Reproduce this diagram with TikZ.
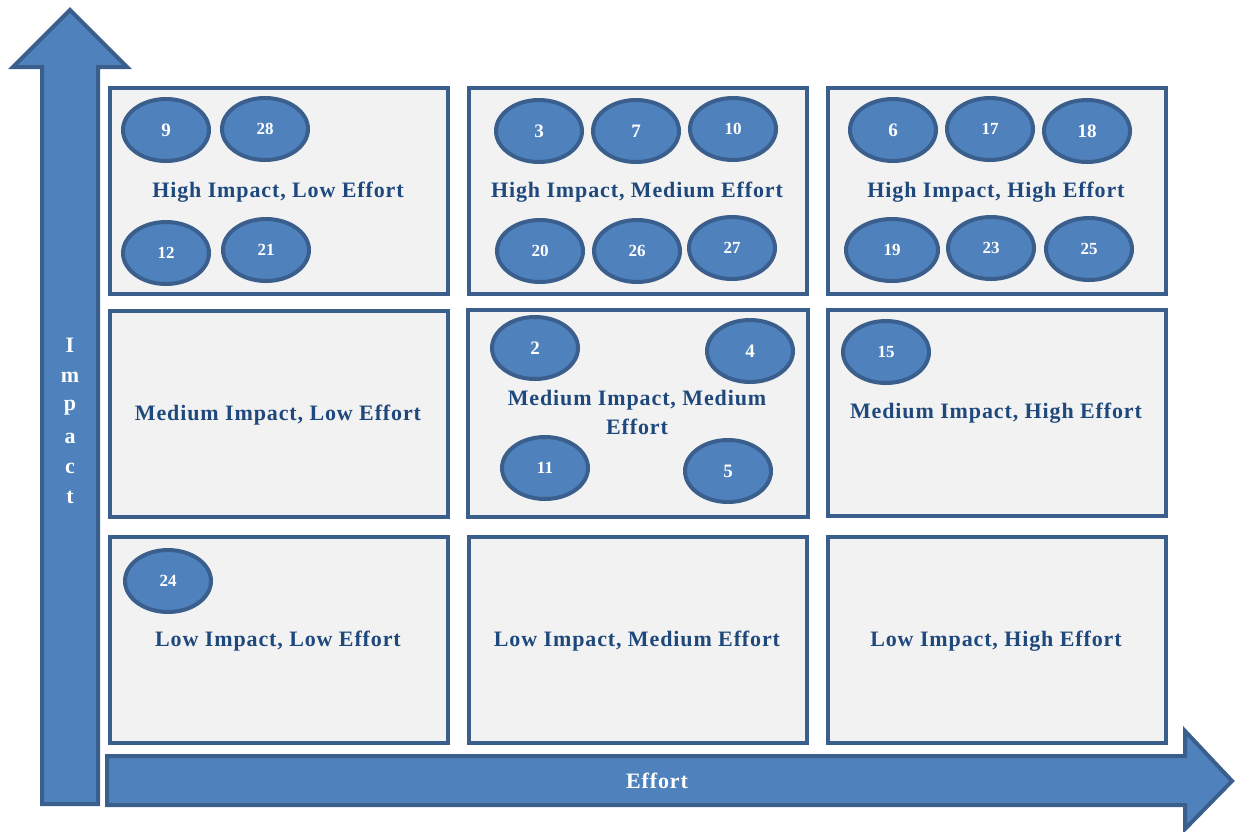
\documentclass[tikz,border=0pt]{standalone}
\usepackage{fontspec}
\setmainfont{Liberation Serif}
\newfontfamily\spacedserif[LetterSpace=4]{Liberation Serif}
\usetikzlibrary{shapes.geometric}
\definecolor{arrfill}{HTML}{4F81BD}
\definecolor{arredge}{HTML}{3A5F8D}
\definecolor{cellfill}{HTML}{F2F2F2}
\definecolor{labtext}{HTML}{1F497D}
\tikzset{
  cell/.style={draw=arredge, fill=cellfill, line width=4pt, rectangle, inner sep=0pt},
  bubble/.style={draw=arredge, fill=arrfill, line width=4pt, ellipse, minimum width=86pt, minimum height=62pt, inner sep=0pt, text=white, font=\fontsize{19}{19}\selectfont\bfseries},
  bubbletwo/.style={bubble, font=\fontsize{17}{17}\selectfont\bfseries},
  bigarrow/.style={draw=arredge, fill=arrfill, line width=4pt, line join=miter},
  celllabel/.style={text=labtext, font=\spacedserif\fontsize{22}{29}\selectfont\bfseries, align=center, inner sep=0pt},
  axislabel/.style={text=white, font=\spacedserif\fontsize{22}{22}\selectfont\bfseries, inner sep=0pt}
}
\begin{document}
\begin{tikzpicture}[x=1pt,y=-1pt]
\useasboundingbox (0,0) rectangle (1236,831);
% arrows
\draw[bigarrow] (42,804) -- (42,67) -- (13,67) -- (70,10) -- (127,67) -- (98,67) -- (98,804) -- cycle;
\draw[bigarrow] (107,756) -- (1185,756) -- (1185,731) -- (1232,781) -- (1185,829) -- (1185,805) -- (107,805) -- cycle;
\node[axislabel] (effort) at (657,781) {Effort};
\node[axislabel] (iI) at (70,345) {I};
\node[axislabel] (im) at (70,377) {m};
\node[axislabel] (ip) at (70,408) {p};
\node[axislabel] (ia) at (70,438) {a};
\node[axislabel] (ic) at (70,468) {c};
\node[axislabel] (it) at (70,497) {t};
% cells
\node[cell, minimum width=338pt, minimum height=206pt] (c11) at (279,191) {};
\node[cell, minimum width=338pt, minimum height=206pt] (c12) at (638,191) {};
\node[cell, minimum width=338pt, minimum height=206pt] (c13) at (997,191) {};
\node[cell, minimum width=338pt, minimum height=206pt] (c21) at (279,414) {};
\node[cell, minimum width=340pt, minimum height=207pt] (c22) at (638,413) {};
\node[cell, minimum width=338pt, minimum height=206pt] (c23) at (997,413) {};
\node[cell, minimum width=338pt, minimum height=206pt] (c31) at (279,640) {};
\node[cell, minimum width=338pt, minimum height=206pt] (c32) at (638,640) {};
\node[cell, minimum width=338pt, minimum height=206pt] (c33) at (997,640) {};
% labels
\node[celllabel] (l11) at (278,192) {High Impact, Low Effort};
\node[celllabel] (l12) at (637,192) {High Impact, Medium Effort};
\node[celllabel] (l13) at (996,192) {High Impact, High Effort};
\node[celllabel] (l21) at (278,415) {Medium Impact, Low Effort};
\node[celllabel] (l22) at (637,412) {Medium Impact, Medium\\Effort};
\node[celllabel] (l23) at (996,413) {Medium Impact, High Effort};
\node[celllabel] (l31) at (278,641) {Low Impact, Low Effort};
\node[celllabel] (l32) at (637,641) {Low Impact, Medium Effort};
\node[celllabel] (l33) at (996,641) {Low Impact, High Effort};
% bubbles
\node[bubble] (n9) at (166,130) {9};
\node[bubbletwo] (n28) at (265,129) {28};
\node[bubbletwo] (n12) at (166,253) {12};
\node[bubbletwo] (n21) at (266,250) {21};
\node[bubble] (n3) at (539,131) {3};
\node[bubble] (n7) at (636,131) {7};
\node[bubbletwo] (n10) at (733,129) {10};
\node[bubbletwo] (n20) at (540,251) {20};
\node[bubbletwo] (n26) at (637,251) {26};
\node[bubbletwo] (n27) at (732,248) {27};
\node[bubble] (n6) at (893,130) {6};
\node[bubbletwo] (n17) at (990,129) {17};
\node[bubble] (n18) at (1087,131) {18};
\node[bubbletwo, minimum width=92pt] (n19) at (892,250) {19};
\node[bubbletwo] (n23) at (991,248) {23};
\node[bubbletwo] (n25) at (1089,249) {25};
\node[bubble] (n2) at (535,348) {2};
\node[bubble] (n4) at (750,351) {4};
\node[bubbletwo] (n11) at (545,468) {11};
\node[bubble] (n5) at (728,471) {5};
\node[bubbletwo] (n15) at (886,352) {15};
\node[bubbletwo] (n24) at (168,581) {24};
\end{tikzpicture}
\end{document}
